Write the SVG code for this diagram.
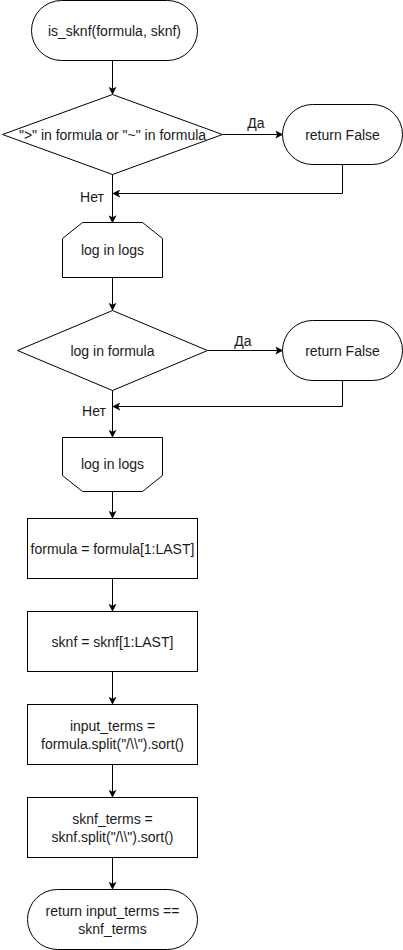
<svg xmlns="http://www.w3.org/2000/svg" width="403" height="950" viewBox="0 0 403 950">
<style>
.s{fill:#fff;stroke:#000;stroke-width:1}
.t{font-family:"Liberation Sans",Arial,sans-serif;font-size:14px;fill:#1a1a1a;text-anchor:middle;dominant-baseline:central}
.c{fill:none;stroke:#000;stroke-width:1}
.l{font-family:"Liberation Sans",Arial,sans-serif;font-size:14px;fill:#1a1a1a;text-anchor:middle;dominant-baseline:central}
</style>
<defs>
<marker id="a" viewBox="0 0 10 10" refX="9" refY="5" markerWidth="8" markerHeight="8" markerUnits="userSpaceOnUse" orient="auto">
<path d="M0,0 L10,5 L0,10 L2.5,5 Z" fill="#000"/>
</marker>
</defs>
<rect width="403" height="950" fill="#fff"/>
<g id="connectors">
<path class="c" d="M112.5,60.5 V94" marker-end="url(#a)"/>
<path class="c" d="M222.5,134.5 H282.5" marker-end="url(#a)"/>
<path class="c" d="M112.5,174.5 V222.5" marker-end="url(#a)"/>
<path class="c" d="M342.5,164.5 V193.5 H113" marker-end="url(#a)"/>
<path class="c" d="M112.5,278 V310" marker-end="url(#a)"/>
<path class="c" d="M207.5,350.5 H282.5" marker-end="url(#a)"/>
<path class="c" d="M112.5,390.5 V437" marker-end="url(#a)"/>
<path class="c" d="M342.5,380.5 V406.5 H113" marker-end="url(#a)"/>
<path class="c" d="M112.5,492 V518" marker-end="url(#a)"/>
<path class="c" d="M112.5,578.5 V611" marker-end="url(#a)"/>
<path class="c" d="M112.5,671 V704" marker-end="url(#a)"/>
<path class="c" d="M112.5,764.5 V797" marker-end="url(#a)"/>
<path class="c" d="M112.5,857 V889" marker-end="url(#a)"/>
<text class="l" x="256" y="123">Да</text>
<text class="l" x="92" y="197">Нет</text>
<text class="l" x="243" y="341">Да</text>
<text class="l" x="94" y="411">Нет</text>
</g>
<g id="start">
<rect class="s" x="31.5" y="0.5" width="166" height="60" rx="30" ry="30"/>
<text class="t" x="114.5" y="30.5">is_sknf(formula, sknf)</text>
</g>
<g id="cond1">
<path class="s" d="M112.5,94.5 L222.5,134.5 L112.5,174.5 L2.5,134.5 Z"/>
<text class="t" x="112.5" y="134.5">"&gt;" in formula or "~" in formula</text>
</g>
<g id="ret1">
<rect class="s" x="282.5" y="104.5" width="120" height="60" rx="30" ry="30"/>
<text class="t" x="342.5" y="134.5">return False</text>
</g>
<g id="loop1">
<path class="s" d="M82.5,222.5 H142.5 L162.5,238.5 V277.5 H62.5 V238.5 Z"/>
<text class="t" x="112.5" y="250">log in logs</text>
</g>
<g id="cond2">
<path class="s" d="M112.5,310.5 L207.5,350.5 L112.5,390.5 L17.5,350.5 Z"/>
<text class="t" x="112.5" y="350.5">log in formula</text>
</g>
<g id="ret2">
<rect class="s" x="282.5" y="320.5" width="120" height="60" rx="30" ry="30"/>
<text class="t" x="342.5" y="350.5">return False</text>
</g>
<g id="loop2">
<path class="s" d="M62.5,437.5 H162.5 V475.5 L142.5,491.5 H82.5 L62.5,475.5 Z"/>
<text class="t" x="112.5" y="464">log in logs</text>
</g>
<g id="step1">
<rect class="s" x="27.5" y="518.5" width="170" height="60"/>
<text class="t" x="112.5" y="548.5">formula = formula[1:LAST]</text>
</g>
<g id="step2">
<rect class="s" x="27.5" y="611.5" width="170" height="60"/>
<text class="t" x="112.5" y="641.5">sknf = sknf[1:LAST]</text>
</g>
<g id="step3">
<rect class="s" x="27.5" y="704.5" width="170" height="60"/>
<text class="t" x="112.5" y="726">input_terms =</text>
<text class="t" x="112.5" y="744">formula.split("/\\").sort()</text>
</g>
<g id="step4">
<rect class="s" x="27.5" y="797.5" width="170" height="60"/>
<text class="t" x="112.5" y="819">sknf_terms =</text>
<text class="t" x="112.5" y="837">sknf.split("/\\").sort()</text>
</g>
<g id="end">
<rect class="s" x="27.5" y="889.5" width="170" height="60" rx="30" ry="30"/>
<text class="t" x="112.5" y="911">return input_terms ==</text>
<text class="t" x="112.5" y="929">sknf_terms</text>
</g>
</svg>
